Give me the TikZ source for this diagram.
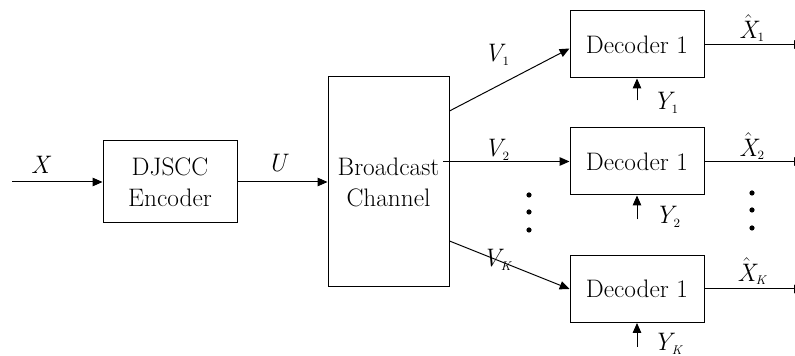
\documentclass[tikz,border=0pt]{standalone}
\usetikzlibrary{arrows.meta}

% a signal name: italic letter with a small upright (or italic) index
\newcommand{\sig}[2]{$\textit{#1}_{\mbox{\fontsize{9}{10}\selectfont #2}}$}
\newcommand{\est}[2]{$\hat{\textit{#1}}_{\mbox{\fontsize{9}{10}\selectfont #2}}$}

\begin{document}
\begin{tikzpicture}[
  font             = \fontsize{18}{22}\selectfont,
  block/.style     = {draw, line width=0.7pt, align=center, inner sep=0pt,
                      minimum width=33.5mm, minimum height=20.5mm},
  chan/.style      = {block, minimum width=30.25mm, minimum height=52.5mm},
  dec/.style       = {block, minimum height=16.75mm},
  arrow/.style     = {line width=0.7pt, -{Triangle[length=7pt,width=6pt]}},
  lbl/.style       = {inner sep=0pt},
]
  \useasboundingbox (0,0) rectangle (19.875,8.9);

  \node[block] (enc) at (4.25,4.35) {DJSCC\\Encoder};
  \node[chan] (bc) at (9.7125,4.35) {Broadcast\\Channel};
  \node[dec] (dec1) at (15.925,7.7875) {Decoder 1};
  \node[dec] (dec2) at (15.925,4.8625) {Decoder 1};
  \node[dec] (decK) at (15.925,1.675) {Decoder 1};

  % free ends: the source on the left, the estimates leaving past the right rim
  \coordinate (src) at (0.3,4.35);
  \coordinate (rim) at (20.1,0);
  \coordinate (y1) at ([yshift=-0.55cm]dec1.south);
  \coordinate (y2) at ([yshift=-0.6cm]dec2.south);
  \coordinate (yK) at ([yshift=-0.6cm]decK.south);

  \draw[arrow] (src) -- (enc);
  \draw[arrow] (enc) -- (bc);
  \draw[arrow] ([yshift=1.775cm]bc.east) -- ([yshift=-0.1cm]dec1.west);
  \draw[arrow] ([xshift=-0.15cm]bc.east |- dec2.west) -- (dec2.west);
  \draw[arrow] ([yshift=-1.475cm]bc.east) -- (decK.west);
  \draw[arrow] (dec1.east) -- (dec1.east -| rim);
  \draw[arrow] (dec2.east) -- (dec2.east -| rim);
  \draw[arrow] (decK.east) -- (decK.east -| rim);
  \draw[arrow] (y1) -- (dec1.south);
  \draw[arrow] (y2) -- (dec2.south);
  \draw[arrow] (yK) -- (decK.south);

  \node[lbl] (lx) at (1.0,4.775) {$\textit{X}$};
  \node[lbl] (lu) at (6.925,4.825) {$\textit{U}$};
  \node[lbl] (lv1) at (12.425,7.525) {\sig{V}{1}};
  \node[lbl] (lv2) at (12.425,5.15) {\sig{V}{2}};
  \node[lbl] (lvK) at (12.425,2.4) {\sig{V}{\itshape K}};
  \node[lbl] (lx1) at (18.8,8.2) {\est{X}{1}};
  \node[lbl] (lx2) at (18.8,5.25) {\est{X}{2}};
  \node[lbl] (lxK) at (18.8,2.125) {\est{X}{\itshape K}};
  \node[lbl] (ly1) at (16.65,6.325) {\sig{Y}{1}};
  \node[lbl] (ly2) at (16.7,3.475) {\sig{Y}{2}};
  \node[lbl] (lyK) at (16.7,0.3) {\sig{Y}{\itshape K}};

  % the elided decoders
  \foreach \y in {4.025,3.6,3.15} {
    \fill (13.225,\y) circle (0.065);
    \fill (18.8,\y+0.05) circle (0.065);
  }
\end{tikzpicture}
\end{document}
